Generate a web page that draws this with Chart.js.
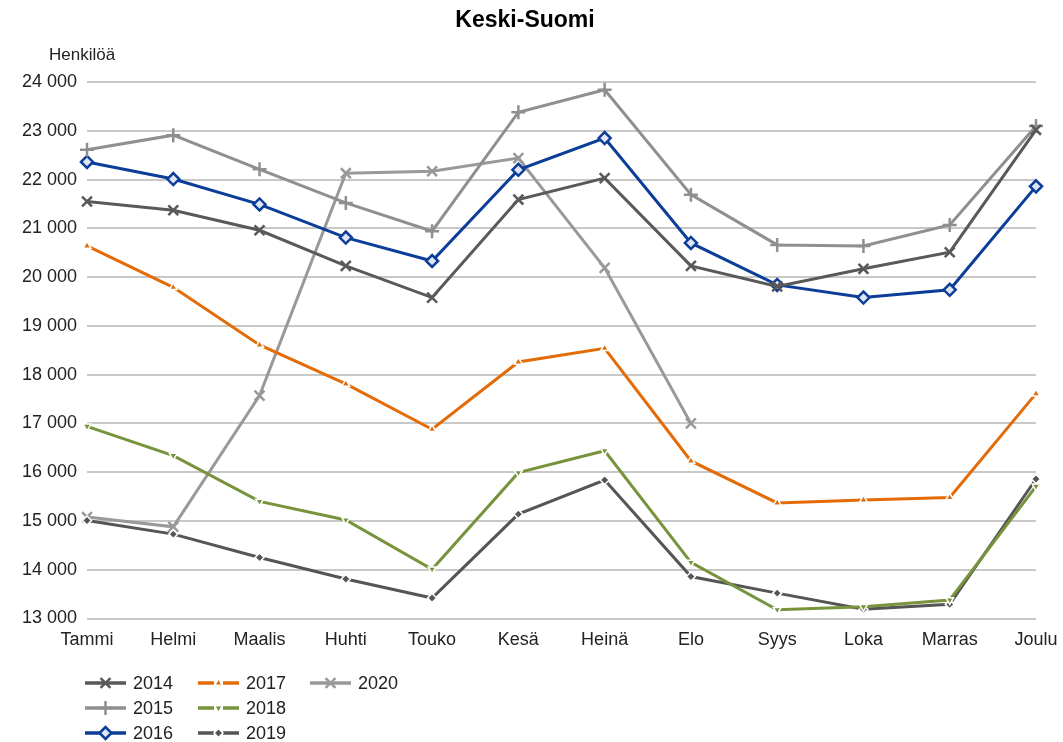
<!DOCTYPE html>
<html>
<head>
<meta charset="utf-8">
<script src="https://cdn.jsdelivr.net/npm/chart.js@4.4.0/dist/chart.umd.min.js"></script>
<style>
  html, body { margin: 0; padding: 0; background: #fff; }
  #wrap { width: 1063px; height: 742px; position: relative; }
</style>
</head>
<body>
<div id="wrap"><canvas id="chart" width="1063" height="742"></canvas></div>
<script>
// Months (x-axis)
const months = ['Tammi', 'Helmi', 'Maalis', 'Huhti', 'Touko', 'Kesä', 'Heinä', 'Elo', 'Syys', 'Loka', 'Marras', 'Joulu'];

// Persons per month
const y2014 = [21550, 21370, 20960, 20230, 19580, 21590, 22030, 20230, 19810, 20170, 20510, 23020];
const y2015 = [22610, 22910, 22210, 21520, 20940, 23380, 23840, 21690, 20660, 20640, 21070, 23100];
const y2016 = [22360, 22010, 21490, 20810, 20330, 22200, 22850, 20700, 19840, 19580, 19740, 21860];
const y2017 = [20640, 19790, 18610, 17810, 16880, 18260, 18540, 16230, 15370, 15430, 15480, 17610];
const y2018 = [16940, 16340, 15400, 15020, 14010, 15990, 16440, 14150, 13180, 13240, 13380, 15710];
const y2019 = [15010, 14730, 14250, 13810, 13420, 15140, 15840, 13860, 13520, 13190, 13290, 15860];
const y2020 = [15080, 14880, 17570, 22130, 22170, 22440, 20190, 17000, null, null, null, null];

const yTicks = [13000, 14000, 15000, 16000, 17000, 18000, 19000, 20000, 21000, 22000, 23000, 24000];

const FONT = '"Liberation Sans", Arial, sans-serif';
const TEXT = '#222222';

function fmt(v) {
    return String(v).replace(/\B(?=(\d{3})+(?!\d))/g, ' ');
}

function series(label, data, color, style, opts) {
    return Object.assign({
        label: label,
        data: data,
        borderColor: color,
        backgroundColor: color,
        borderWidth: 3,
        tension: 0,
        fill: false,
        clip: false,
        spanGaps: false,
        pointStyle: style,
        pointRadius: 6,
        pointBorderColor: color,
        pointBackgroundColor: color,
        pointBorderWidth: 2.5
    }, opts || {});
}

const datasets = [
    series('2014', y2014, '#595959', 'crossRot', { pointRadius: 7 }),
    series('2015', y2015, '#8f8f8f', 'cross', { pointRadius: 7 }),
    series('2016', y2016, '#0b3d99', 'rectRot', { pointRadius: 6, pointBackgroundColor: '#dfe6f4', pointBorderWidth: 2.5 }),
    series('2017', y2017, '#e36c09', 'triangle', { pointRadius: 4.5, pointBorderColor: '#ffffff', pointBorderWidth: 1.5, dashLegend: true }),
    series('2018', y2018, '#77933c', 'triangle', { pointRadius: 4.5, pointRotation: 180, pointBorderColor: '#ffffff', pointBorderWidth: 1.5, dashLegend: true }),
    series('2019', y2019, '#555555', 'rectRot', { pointRadius: 4.5, pointBorderColor: '#ffffff', pointBorderWidth: 1.5, dashLegend: true }),
    series('2020', y2020, '#999999', 'crossRot', { pointRadius: 7 })
];

// legend slots: column-major, 3 rows
const legendCols = [85, 198, 310];
const legendRows = [683, 708, 733];

const decorations = {
    id: 'decorations',
    afterDraw(chart) {
        const ctx = chart.ctx;
        ctx.save();
        // title
        ctx.fillStyle = '#000';
        ctx.font = 'bold 23px ' + FONT;
        ctx.textAlign = 'center';
        ctx.textBaseline = 'middle';
        ctx.fillText('Keski-Suomi', 525, 21);
        // axis unit
        ctx.fillStyle = TEXT;
        ctx.font = '17px ' + FONT;
        ctx.textAlign = 'left';
        ctx.fillText('Henkilöä', 49, 55);

        // legend
        chart.data.datasets.forEach(function(ds, i) {
            const x0 = legendCols[Math.floor(i / 3)];
            const y = legendRows[i % 3];
            const w = 41;
            ctx.strokeStyle = ds.borderColor;
            ctx.lineWidth = 3.5;
            ctx.beginPath();
            if (ds.dashLegend) {
                ctx.moveTo(x0, y); ctx.lineTo(x0 + 16, y);
                ctx.moveTo(x0 + 25, y); ctx.lineTo(x0 + w, y);
            } else {
                ctx.moveTo(x0, y); ctx.lineTo(x0 + w, y);
            }
            ctx.stroke();
            ctx.fillStyle = ds.pointBackgroundColor;
            ctx.strokeStyle = ds.pointBorderColor;
            ctx.lineWidth = ds.pointBorderWidth;
            Chart.helpers.drawPoint(ctx, {
                pointStyle: ds.pointStyle,
                radius: ds.pointRadius,
                rotation: ds.pointRotation || 0,
                borderWidth: ds.pointBorderWidth
            }, x0 + w / 2, y);
            ctx.fillStyle = TEXT;
            ctx.font = '18px ' + FONT;
            ctx.textAlign = 'left';
            ctx.textBaseline = 'middle';
            ctx.fillText(ds.label, x0 + 48, y + 1);
        });
        ctx.restore();
    }
};

new Chart(document.getElementById('chart').getContext('2d'), {
    type: 'line',
    data: { labels: months, datasets: datasets },
    options: {
        responsive: false,
        animation: false,
        events: [],
        layout: { padding: { top: 82, right: 27, bottom: 0, left: 0 } },
        plugins: {
            legend: { display: false },
            title: { display: false },
            tooltip: { enabled: false }
        },
        scales: {
            x: {
                offset: false,
                border: { display: false },
                grid: { display: false, drawTicks: false },
                ticks: {
                    color: TEXT,
                    font: { family: FONT, size: 18 },
                    padding: 11,
                    maxRotation: 0,
                    autoSkip: false
                },
                afterFit(scale) {
                    scale.height = 123.5;
                    scale.paddingRight = 0;
                    scale.paddingLeft = 0;
                }
            },
            y: {
                min: 13000,
                max: 24000,
                border: { display: false },
                grid: { color: '#c8c8c8', lineWidth: 2, drawTicks: false },
                afterBuildTicks(scale) { scale.ticks = yTicks.map(v => ({ value: v })); },
                ticks: {
                    color: TEXT,
                    font: { family: FONT, size: 18 },
                    padding: 10,
                    callback: v => fmt(v)
                },
                afterFit(scale) {
                    scale.width = 87;
                    scale.paddingTop = 0;
                    scale.paddingBottom = 0;
                }
            }
        }
    },
    plugins: [decorations]
});
</script>
</body>
</html>
